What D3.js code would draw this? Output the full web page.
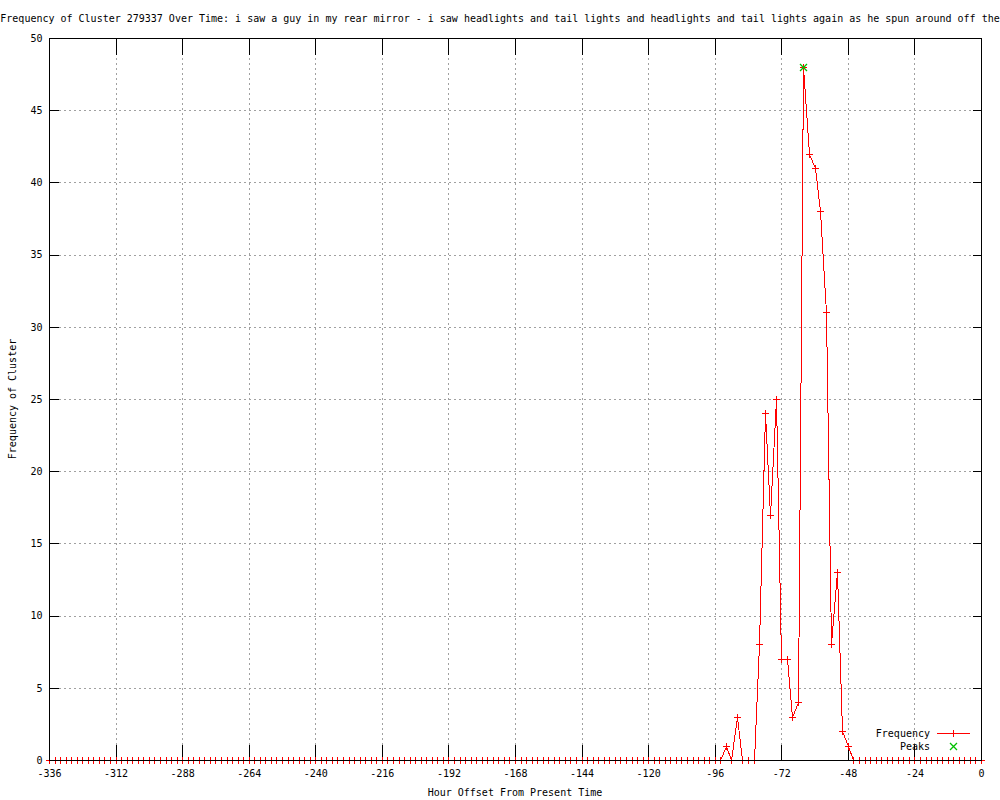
<!DOCTYPE html>
<html>
<head>
<meta charset="utf-8">
<script src="https://cdn.jsdelivr.net/npm/d3@7"></script>
<style>
  html, body { margin: 0; padding: 0; background: #ffffff; }
  svg { display: block; }
  text { font-family: "DejaVu Sans Mono", "Liberation Mono", monospace; font-size: 10px; fill: #000; }
</style>
</head>
<body>
<script>
// ---- Data ----
const titleText = "Frequency of Cluster 279337 Over Time: i saw a guy in my rear mirror - i saw headlights and tail lights and headlights and tail lights again as he spun around off the";
const xLabelText = "Hour Offset From Present Time";
const yLabelText = "Frequency of Cluster";

const hours = [
  -336,-334,-332,-330,-328,-326,-324,-322,-320,-318,-316,-314,
  -312,-310,-308,-306,-304,-302,-300,-298,-296,-294,-292,-290,
  -288,-286,-284,-282,-280,-278,-276,-274,-272,-270,-268,-266,
  -264,-262,-260,-258,-256,-254,-252,-250,-248,-246,-244,-242,
  -240,-238,-236,-234,-232,-230,-228,-226,-224,-222,-220,-218,
  -216,-214,-212,-210,-208,-206,-204,-202,-200,-198,-196,-194,
  -192,-190,-188,-186,-184,-182,-180,-178,-176,-174,-172,-170,
  -168,-166,-164,-162,-160,-158,-156,-154,-152,-150,-148,-146,
  -144,-142,-140,-138,-136,-134,-132,-130,-128,-126,-124,-122,
  -120,-118,-116,-114,-112,-110,-108,-106,-104,-102,-100,-98,
  -96,-94,-92,-90,-88,-86,-84,-82,-80,-78,-76,-74,
  -72,-70,-68,-66,-64,-62,-60,-58,-56,-54,-52,-50,
  -48,-46,-44,-42,-40,-38,-36,-34,-32,-30,-28,-26,
  -24,-22,-20,-18,-16,-14,-12,-10,-8,-6,-4,-2,
  0
];
const frequency = [
  0,0,0,0,0,0,0,0,0,0,0,0,
  0,0,0,0,0,0,0,0,0,0,0,0,
  0,0,0,0,0,0,0,0,0,0,0,0,
  0,0,0,0,0,0,0,0,0,0,0,0,
  0,0,0,0,0,0,0,0,0,0,0,0,
  0,0,0,0,0,0,0,0,0,0,0,0,
  0,0,0,0,0,0,0,0,0,0,0,0,
  0,0,0,0,0,0,0,0,0,0,0,0,
  0,0,0,0,0,0,0,0,0,0,0,0,
  0,0,0,0,0,0,0,0,0,0,0,0,
  0,0,1,0,3,0,0,0,8,24,17,25,
  7,7,3,4,48,42,41,38,31,8,13,2,
  1,0,0,0,0,0,0,0,0,0,0,0,
  0,0,0,0,0,0,0,0,0,0,0,0,
  0
];
const peakHours = [-64];
const peakValues = [48];

const xTicks = [-336,-312,-288,-264,-240,-216,-192,-168,-144,-120,-96,-72,-48,-24,0];
const yTicks = [0,5,10,15,20,25,30,35,40,45,50];
const legendNames = ["Frequency", "Peaks"];

// ---- Layout ----
const W = 1000, H = 800;
const mL = 49, mR = 981, mT = 38, mB = 760;
const red = "#ff0000", green = "#00c000", gridCol = "#a0a0a0";

const svg = d3.select("body").append("svg").attr("width", W).attr("height", H);

const x = d3.scaleLinear().domain([-336, 0]).range([mL, mR]);
const y = d3.scaleLinear().domain([0, 50]).range([mB, mT]);

const px = v => Math.round(x(v)) + 0.5;
const py = v => Math.round(y(v)) + 0.5;

// grid
const grid = svg.append("g").attr("shape-rendering", "crispEdges")
  .attr("stroke", gridCol).attr("stroke-width", 1).attr("stroke-dasharray", "2,3");
grid.selectAll("line.gx").data(xTicks.slice(1, -1)).enter().append("line")
  .attr("x1", d => px(d)).attr("x2", d => px(d)).attr("y1", mT).attr("y2", mB);
grid.selectAll("line.gy").data(yTicks.slice(1, -1)).enter().append("line")
  .attr("x1", mL).attr("x2", mR).attr("y1", d => py(d)).attr("y2", d => py(d));

// axes via d3 axis generators (ticks inward, mirrored)
const tickV = 16, tickH = 9;
function styleAxis(g) {
  g.selectAll(".domain").remove();
  g.selectAll(".tick line").attr("stroke", "#000").attr("shape-rendering", "crispEdges");
  g.selectAll("text").attr("font-family", "DejaVu Sans Mono, monospace").attr("font-size", 10).attr("fill", "#000");
}
const xFmt = d => String(d);

const gxb = svg.append("g").attr("transform", `translate(0,${mB + 0.5})`)
  .call(d3.axisBottom(x).tickValues(xTicks).tickSize(-tickV).tickPadding(9).tickFormat(xFmt).offset(0.5));
styleAxis(gxb);
const gxt = svg.append("g").attr("transform", `translate(0,${mT + 0.5})`)
  .call(d3.axisTop(x).tickValues(xTicks).tickSize(-tickV).tickFormat("").offset(0.5));
styleAxis(gxt);
const gyl = svg.append("g").attr("transform", `translate(${mL + 0.5},0)`)
  .call(d3.axisLeft(y).tickValues(yTicks).tickSize(-tickH).tickPadding(7).tickFormat(d => String(d)).offset(0.5));
styleAxis(gyl);
const gyr = svg.append("g").attr("transform", `translate(${mR + 0.5},0)`)
  .call(d3.axisRight(y).tickValues(yTicks).tickSize(-tickH).tickFormat("").offset(0.5));
styleAxis(gyr);

// data line
const pts = hours.map((h, i) => [h, frequency[i]]);
const line = d3.line().x(d => px(d[0])).y(d => py(d[1]));
svg.append("path").datum(pts).attr("d", line)
  .attr("fill", "none").attr("stroke", red).attr("stroke-width", 1).attr("shape-rendering", "crispEdges");

// plus markers
const ms = 3.5;
const plus = svg.append("g").attr("stroke", red).attr("stroke-width", 1).attr("shape-rendering", "crispEdges");
plus.selectAll("path").data(pts).enter().append("path")
  .attr("d", d => {
    const cx = px(d[0]), cy = py(d[1]);
    return `M${cx - ms},${cy}H${cx + ms}M${cx},${cy - ms}V${cy + ms}`;
  });

// peaks (green x)
const peaks = peakHours.map((h, i) => [h, peakValues[i]]);
svg.append("g").attr("stroke", green).attr("stroke-width", 1.3)
  .selectAll("path").data(peaks).enter().append("path")
  .attr("d", d => {
    const cx = px(d[0]), cy = py(d[1]);
    return `M${cx - 3.5},${cy - 3.5}L${cx + 3.5},${cy + 3.5}M${cx - 3.5},${cy + 3.5}L${cx + 3.5},${cy - 3.5}`;
  });

// border
svg.append("rect").attr("x", mL + 0.5).attr("y", mT + 0.5)
  .attr("width", mR - mL).attr("height", mB - mT)
  .attr("fill", "none").attr("stroke", "#000").attr("shape-rendering", "crispEdges");

// titles
svg.append("text").attr("x", W / 2).attr("y", 22).attr("text-anchor", "middle").text(titleText);
svg.append("text").attr("x", (mL + mR) / 2).attr("y", 796).attr("text-anchor", "middle").text(xLabelText);
svg.append("text").attr("transform", `translate(16,${(mT + mB) / 2}) rotate(-90)`)
  .attr("text-anchor", "middle").text(yLabelText);

// legend
const lg = svg.append("g");
const legY = [733, 746];
lg.selectAll("text").data(legendNames).enter().append("text")
  .attr("x", 930).attr("y", (d, i) => legY[i] + 3.5).attr("text-anchor", "end").text(d => d);
lg.append("line").attr("x1", 937).attr("x2", 970).attr("y1", legY[0] + 0.5).attr("y2", legY[0] + 0.5)
  .attr("stroke", red).attr("shape-rendering", "crispEdges");
lg.append("path").attr("d", `M950,${legY[0] + 0.5}H957M953.5,${legY[0] - 3}V${legY[0] + 4}`)
  .attr("stroke", red).attr("shape-rendering", "crispEdges");
lg.append("path").attr("d", `M950,${legY[1] - 3}L957,${legY[1] + 4}M950,${legY[1] + 4}L957,${legY[1] - 3}`)
  .attr("stroke", green).attr("stroke-width", 1.3);
</script>
</body>
</html>
